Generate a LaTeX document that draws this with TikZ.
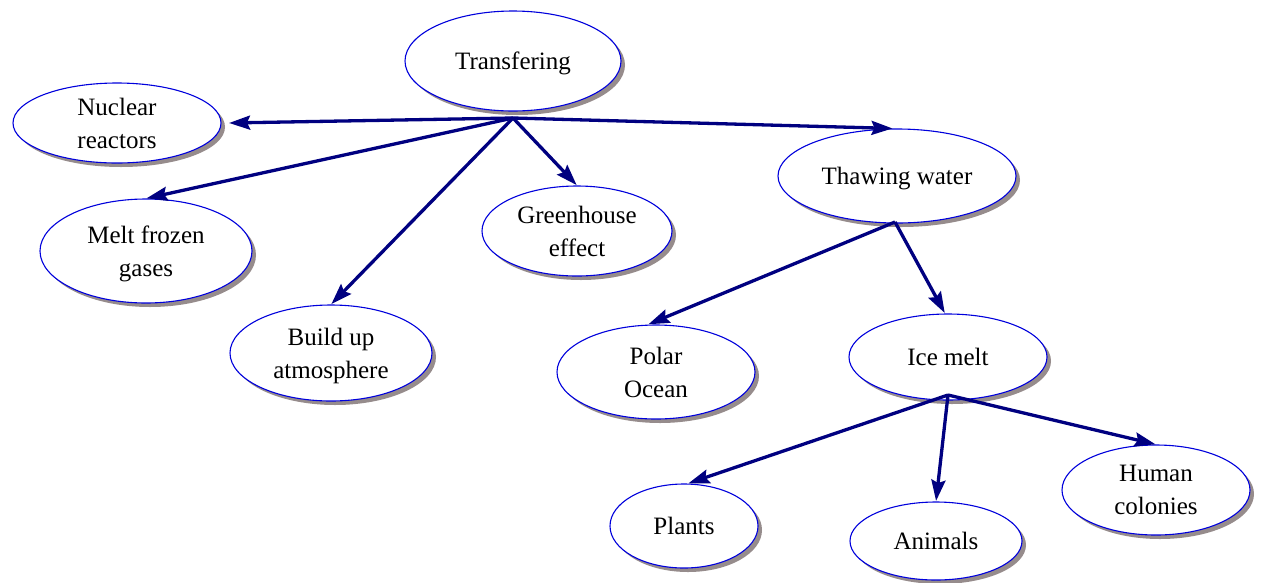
\documentclass[tikz,border=0pt]{standalone}
\usepackage{fontspec}
\setmainfont{Liberation Serif}
\usetikzlibrary{shapes.geometric,shadows,arrows.meta}
\definecolor{linknavy}{RGB}{0,0,128}
\definecolor{rimblue}{RGB}{0,0,220}
\definecolor{shadowgray}{RGB}{150,140,140}
\tikzset{
  topic/.style={ellipse, draw=rimblue, line width=1.1pt, fill=white, inner sep=0pt,
    align=center, font=\fontsize{25}{33}\selectfont, text depth=0pt,
    drop shadow={shadow xshift=4pt, shadow yshift=-4pt, fill=shadowgray, opacity=1}},
  link/.style={draw=linknavy, line width=3.3pt,
    -{Stealth[length=21pt,width=14pt,inset=3pt]}, shorten >=0.5pt}
}
\begin{document}
\begin{tikzpicture}[x=1pt,y=-1pt]
\useasboundingbox (0,0) rectangle (1261,582);

% concept ellipses
\node[topic, minimum width=216pt, minimum height=100pt] (trans) at (513,61) {Transfering};
\node[topic, minimum width=208pt, minimum height=80pt] (nuc) at (117,123) {Nuclear\\reactors};
\node[topic, minimum width=212pt, minimum height=104pt] (melt) at (146,251) {Melt frozen\\gases};
\node[topic, minimum width=202pt, minimum height=96pt] (build) at (331,353) {Build up\\atmosphere};
\node[topic, minimum width=190pt, minimum height=90pt] (green) at (577,231) {Greenhouse\\effect};
\node[topic, minimum width=238pt, minimum height=94pt] (thaw) at (897,176) {Thawing water};
\node[topic, minimum width=198pt, minimum height=94pt] (polar) at (656,372) {Polar\\Ocean};
\node[topic, minimum width=198pt, minimum height=86pt] (ice) at (948,357) {Ice melt};
\node[topic, minimum width=148pt, minimum height=84pt] (plants) at (684,526) {Plants};
\node[topic, minimum width=172pt, minimum height=78pt] (animals) at (936,541) {Animals};
\node[topic, minimum width=188pt, minimum height=90pt] (human) at (1156,490) {Human\\colonies};

% branching points below the parent ellipses
\coordinate (transhub) at (513,118);
\coordinate (thawhub) at (895,222);
\coordinate (icehub) at (948,395);

% links
\draw[link] (transhub) -- ([xshift=7pt]nuc.east);
\draw[link] (transhub) -- (melt.north);
\draw[link] (transhub) -- (build.north);
\draw[link] (transhub) -- (green.north);
\draw[link] (transhub) -- ([xshift=-4pt]thaw.north);
\draw[link] (thawhub) -- ([xshift=-8pt]polar.north);
\draw[link] (thawhub) -- ([xshift=-3pt]ice.north);
\draw[link] (icehub) -- ([xshift=4pt]plants.north);
\draw[link] (icehub) -- (animals.north);
\draw[link] (icehub) -- (human.north);
\end{tikzpicture}
\end{document}
